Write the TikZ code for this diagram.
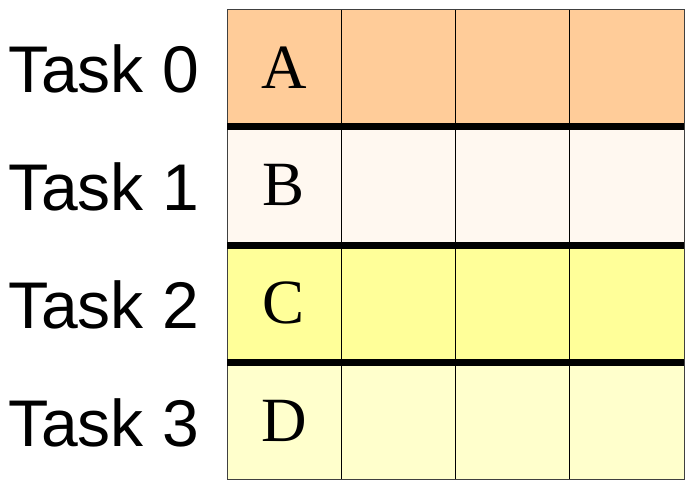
\documentclass[tikz,border=0pt]{standalone}
\usepackage{fontspec}
\setmainfont{Liberation Serif}
\newfontfamily\tasksans{Liberation Sans}
\begin{document}
\begin{tikzpicture}[x=1pt,y=-1pt,
  tasklabel/.style={anchor=west,inner sep=0pt,font=\tasksans\fontsize{66}{66}\selectfont},
  cellletter/.style={inner sep=0pt,font=\fontsize{63}{63}\selectfont},
  thinline/.style={draw=black!75,line width=1pt},
  thickline/.style={draw=black,line width=7pt}]
\useasboundingbox (0,0) rectangle (687,484);
\definecolor{rowA}{HTML}{FFCC99}
\definecolor{rowB}{HTML}{FFF8F0}
\definecolor{rowC}{HTML}{FFFF99}
\definecolor{rowD}{HTML}{FFFFCC}
\fill[rowA] (227,10) rectangle (684,126.5);
\fill[rowB] (227,126.5) rectangle (684,245);
\fill[rowC] (227,245) rectangle (684,362);
\fill[rowD] (227,362) rectangle (684,479);
\foreach \x in {341,455.5,569.5} \draw[thinline,draw=black] (\x,10) -- (\x,479);
\draw[thinline] (227,10) rectangle (684,479);
\foreach \y in {126.5,245,362} \draw[thickline] (227,\y) -- (684,\y);
\node[tasklabel] (t0) at (8,68.5) {Task 0};
\node[tasklabel] (t1) at (8,186.5) {Task 1};
\node[tasklabel] (t2) at (8,304.5) {Task 2};
\node[tasklabel] (t3) at (8,422.5) {Task 3};
\node[cellletter] (a) at (284,68) {A};
\node[cellletter] (b) at (284,185) {B};
\node[cellletter] (c) at (284,303) {C};
\node[cellletter] (d) at (284,420.5) {D};
\end{tikzpicture}
\end{document}
